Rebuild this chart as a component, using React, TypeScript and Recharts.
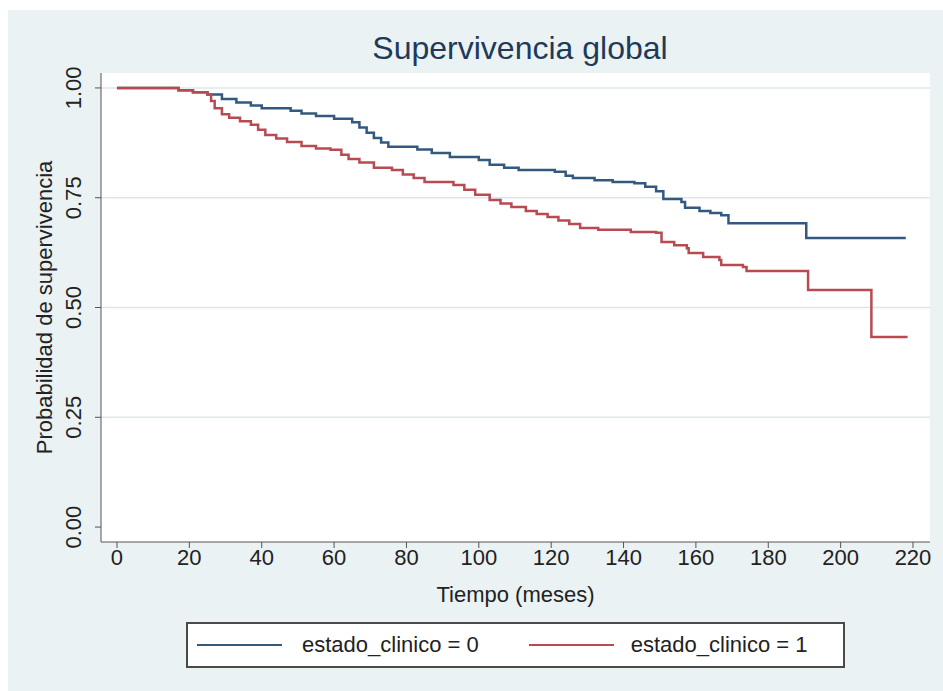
import React from "react"
import {
  LineChart,
  Line,
  XAxis,
  YAxis,
  CartesianGrid,
  Legend,
  Label,
} from "recharts"

// Kaplan-Meier steps (time in months, survival probability)
const TIME_0 = [0, 17, 21, 25, 29, 33, 37, 40, 48, 51, 55, 60, 65, 67, 69, 71, 73, 75, 83, 87, 92, 100, 103, 107, 111, 121, 124, 126, 132, 137, 143, 146, 149, 151, 156, 157, 161, 164, 167, 169, 190.5, 218]
const SURV_0 = [1, 0.995, 0.99, 0.985, 0.975, 0.967, 0.96, 0.954, 0.948, 0.942, 0.936, 0.93, 0.922, 0.91, 0.898, 0.886, 0.876, 0.866, 0.86, 0.852, 0.843, 0.836, 0.825, 0.818, 0.813, 0.809, 0.8, 0.795, 0.79, 0.786, 0.783, 0.775, 0.765, 0.747, 0.74, 0.727, 0.72, 0.715, 0.71, 0.692, 0.658, 0.658]

const TIME_1 = [0, 17, 21, 25, 26, 27, 29, 31, 34, 37, 39, 41, 44, 47, 51, 55, 59, 62, 64, 67, 71, 76, 79, 82, 85, 93, 96, 99, 103, 106, 109, 113, 116, 119, 122, 125, 128, 133, 142, 149, 150.5, 154, 157.5, 158, 162, 166.5, 167, 173, 174, 191, 208.5, 218.5]
const SURV_1 = [1, 0.995, 0.99, 0.985, 0.97, 0.954, 0.94, 0.932, 0.924, 0.916, 0.905, 0.893, 0.885, 0.877, 0.868, 0.862, 0.859, 0.848, 0.838, 0.83, 0.818, 0.813, 0.803, 0.795, 0.786, 0.779, 0.768, 0.757, 0.745, 0.737, 0.729, 0.72, 0.713, 0.706, 0.698, 0.69, 0.681, 0.677, 0.672, 0.67, 0.649, 0.642, 0.635, 0.624, 0.615, 0.608, 0.597, 0.592, 0.583, 0.54, 0.433, 0.433]

const X_TICKS = [0, 20, 40, 60, 80, 100, 120, 140, 160, 180, 200, 220]
const Y_TICKS = [0, 0.25, 0.5, 0.75, 1]
const GRID_VALUES = [0.25, 0.5, 0.75, 1]

const group0 = TIME_0.map((t, i) => ({ t, s: SURV_0[i] }))
const group1 = TIME_1.map((t, i) => ({ t, s: SURV_1[i] }))

const FONT = '"Liberation Sans", Arial, Helvetica, sans-serif'
const BLUE = "#34597e"
const RED = "#b84a52"

const YTick = ({ x, y, payload }: any) => {
  const tx = x - 12
  return (
    <text
      x={tx}
      y={y}
      transform={`rotate(-90, ${tx}, ${y})`}
      textAnchor="middle"
      fontSize={22}
      fontFamily={FONT}
      fill="#222"
    >
      {Number(payload.value).toFixed(2)}
    </text>
  )
}

const LegendBox = ({ payload }: any) => (
  <div
    style={{
      height: 46,
      boxSizing: "border-box",
      border: "2px solid #4a4a4a",
      background: "#fff",
      display: "flex",
      alignItems: "center",
      fontFamily: FONT,
      fontSize: 22,
      color: "#222",
    }}
  >
    {(payload || []).map((item: any, i: number) => (
      <div
        key={`leg-${i}`}
        style={{ display: "flex", alignItems: "center", marginLeft: i === 0 ? 9 : 50 }}
      >
        <span
          style={{ display: "inline-block", width: 85, borderTop: `2.5px solid ${item.color}` }}
        />
        <span style={{ marginLeft: i === 0 ? 20 : 17 }}>{item.value}</span>
      </div>
    ))}
  </div>
)

export default function App() {
  return (
    <div style={{ position: "fixed", left: 0, top: 0, width: 943, height: 691, background: "#fff" }}>
      <div style={{ position: "absolute", left: 8, top: 10, right: 0, bottom: 0, background: "#eaf2f3" }} />
      <div
        style={{
          position: "absolute",
          left: 0,
          width: 943,
          top: 30,
          textAlign: "center",
          paddingLeft: 97,
          boxSizing: "border-box",
          fontFamily: FONT,
          fontSize: 32,
          color: "#1e3a5a",
        }}
      >
        Supervivencia global
      </div>
      <div style={{ position: "absolute", left: 0, top: 0 }}>
        <LineChart width={943} height={691} margin={{ top: 73, right: 13, bottom: 38, left: 0 }}>
          <CartesianGrid
            vertical={false}
            horizontalValues={GRID_VALUES}
            fill="#fff"
            stroke="#dfe6e8"
            strokeWidth={1.5}
          />
          <XAxis
            dataKey="t"
            type="number"
            domain={[-4.42, 224.7]}
            allowDataOverflow
            ticks={X_TICKS}
            interval={0}
            height={65}
            tickSize={6}
            tickMargin={1}
            stroke="#555"
            tick={{ fontSize: 22, fill: "#222", fontFamily: FONT }}
          >
            <Label
              content={({ viewBox }: any) => (
                <text
                  x={viewBox.x + viewBox.width / 2}
                  y={viewBox.y + 60}
                  textAnchor="middle"
                  fontSize={22}
                  fontFamily={FONT}
                  fill="#222"
                >
                  Tiempo (meses)
                </text>
              )}
            />
          </XAxis>
          <YAxis
            dataKey="s"
            type="number"
            domain={[-0.034, 1.034]}
            allowDataOverflow
            ticks={Y_TICKS}
            interval={0}
            width={101}
            tickSize={6}
            tickMargin={2}
            stroke="#555"
            tick={<YTick />}
          >
            <Label
              content={({ viewBox }: any) => {
                const lx = 52
                const ly = viewBox.y + viewBox.height / 2
                return (
                  <text
                    x={lx}
                    y={ly}
                    transform={`rotate(-90, ${lx}, ${ly})`}
                    textAnchor="middle"
                    fontSize={22}
                    fontFamily={FONT}
                    fill="#222"
                  >
                    Probabilidad de supervivencia
                  </text>
                )
              }}
            />
          </YAxis>
          <Legend
            content={<LegendBox />}
            wrapperStyle={{ left: 186, top: 622, width: 659 }}
          />
          <Line
            data={group0}
            dataKey="s"
            name="estado_clinico = 0"
            type="stepAfter"
            stroke={BLUE}
            strokeWidth={2.5}
            dot={false}
            isAnimationActive={false}
          />
          <Line
            data={group1}
            dataKey="s"
            name="estado_clinico = 1"
            type="stepAfter"
            stroke={RED}
            strokeWidth={2.5}
            dot={false}
            isAnimationActive={false}
          />
        </LineChart>
      </div>
    </div>
  )
}
